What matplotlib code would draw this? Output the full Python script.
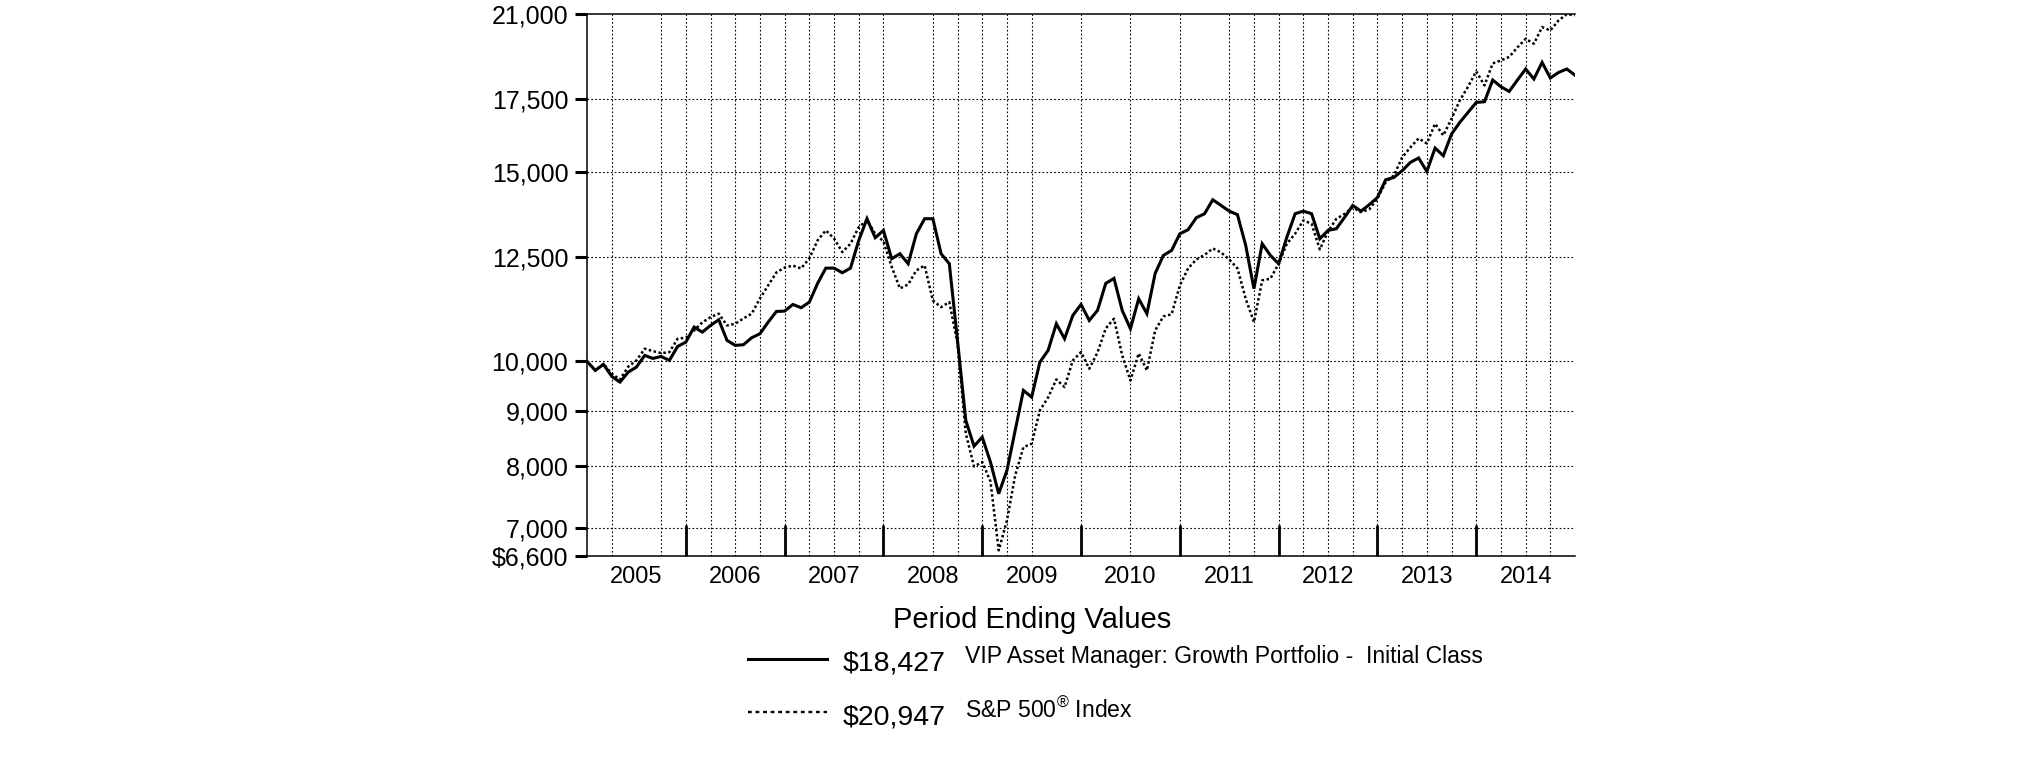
import matplotlib
matplotlib.use("Agg")
import matplotlib.pyplot as plt
from matplotlib.lines import Line2D
from matplotlib.ticker import FixedLocator, NullLocator
import numpy as np

plt.rcParams["font.family"] = ["Liberation Sans", "DejaVu Sans"]
plt.rcParams["mathtext.fontset"] = "custom"
plt.rcParams["mathtext.rm"] = "Liberation Sans"

# monthly hypothetical $10,000 growth, Dec 2004 .. Dec 2014
fund = [
    10000, 9810, 9936, 9685, 9568, 9774, 9879, 10129, 10064, 10107, 10021, 10325,
    10421, 10760, 10645, 10799, 10931, 10459, 10348, 10363, 10519, 10609, 10875, 11126,
    11134, 11294, 11215, 11350, 11813, 12205, 12205, 12085, 12205, 12949, 13563, 13024,
    13229, 12452, 12586, 12320, 13135, 13563, 13563, 12586, 12320, 10450, 8816, 8345,
    8507, 8065, 7539, 7923, 8630, 9400, 9266, 9985, 10238, 10838, 10497, 11032,
    11294, 10915, 11151, 11813, 11940, 11151, 10723, 11432, 11073, 12067, 12541, 12675,
    13135, 13247, 13592, 13708, 14124, 13953, 13785, 13679, 12811, 11680, 12858, 12541,
    12320, 13040, 13708, 13785, 13708, 12995, 13229, 13275, 13600, 13953, 13785, 13974,
    14193, 14740, 14813, 15026, 15296, 15441, 15004, 15773, 15516, 16252, 16660, 17020,
    17386, 17412, 18238, 17979, 17800, 18238, 18673, 18278, 18938, 18317, 18537, 18673,
    18427,
]
sp500 = [
    10000, 9810, 9950, 9740, 9620, 9890, 10020, 10275, 10222, 10179, 10200, 10497,
    10519, 10684, 10869, 10992, 11073, 10799, 10838, 10962, 11073, 11440, 11762, 12093,
    12220, 12270, 12197, 12461, 12949, 13229, 13004, 12629, 12858, 13323, 13515, 13135,
    12922, 12240, 11687, 11787, 12145, 12275, 11391, 11230, 11350, 10392, 8574, 7991,
    8065, 7739, 6680, 7121, 7839, 8327, 8388, 9007, 9260, 9623, 9466, 10021,
    10201, 9845, 10194, 10730, 10955, 10129, 9602, 10172, 9810, 10684, 11009, 11060,
    11762, 12197, 12433, 12553, 12729, 12621, 12433, 12197, 11432, 10875, 11889, 11933,
    12320, 12858, 13135, 13515, 13419, 12702, 13200, 13557, 13702, 13894, 13756, 13835,
    14164, 14656, 14877, 15460, 15794, 16100, 15928, 16613, 16203, 16792, 17461, 17979,
    18578, 18029, 18897, 19018, 19160, 19553, 19919, 19707, 20420, 20276, 20714, 20990,
    20947,
]
years = ["2005", "2006", "2007", "2008", "2009", "2010", "2011", "2012", "2013", "2014"]
y_ticks = [6600, 7000, 8000, 9000, 10000, 12500, 15000, 17500, 21000]
y_labels = ["$6,600", "7,000", "8,000", "9,000", "10,000", "12,500", "15,000",
            "17,500", "21,000"]
# months (from Dec 2004) carrying a vertical dotted grid line in the original
grid_months = [3, 9, 12, 15, 18, 21, 24, 27, 30, 33, 36, 42, 45, 48, 51, 54,
               60, 66, 72, 78, 81, 84, 87, 90, 93, 96, 99, 102, 105, 108, 111,
               114, 117]
fund_name = "VIP Asset Manager: Growth Portfolio -  Initial Class"
index_name = r"S&P 500$^{\circledR}$ Index"

months = np.arange(len(fund))
n_months = len(fund) - 1

fig = plt.figure(figsize=(20.25, 7.61), dpi=100)
ax = fig.add_axes([0.2899, 0.2694, 0.4879, 0.7122])

ax.plot(months, fund, color="black", lw=2.2, solid_joinstyle="miter", zorder=4)
ax.plot(months, sp500, color="black", lw=1.8, ls=(0, (1.0, 1.0)), zorder=3)

ax.set_yscale("log")
ax.set_ylim(y_ticks[0], y_ticks[-1])
ax.set_xlim(0, n_months)

ax.yaxis.set_major_locator(FixedLocator(y_ticks))
ax.yaxis.set_minor_locator(NullLocator())
ax.set_yticklabels(y_labels)
ax.tick_params(axis="y", which="major", direction="out", length=8.5, width=2.2,
               labelsize=18, pad=5, colors="black")

# year boundaries: tall inside ticks; year names centred in each year
bounds = np.arange(12, n_months, 12)
mids = np.arange(6, n_months, 12)
ax.xaxis.set_major_locator(FixedLocator(bounds))
ax.xaxis.set_minor_locator(FixedLocator(mids))
ax.set_xticklabels([""] * len(bounds))
ax.set_xticklabels(years, minor=True)
ax.tick_params(axis="x", which="major", direction="in", length=22, width=2.0,
               colors="black")
ax.tick_params(axis="x", which="minor", length=0, labelsize=17, pad=7)

# dotted grid
grid_kw = dict(color="black", lw=0.8, ls=(0, (1.5, 2.0)), zorder=1)
for q in grid_months:
    ax.axvline(q, **grid_kw)
for v in y_ticks[1:-1]:
    ax.axhline(v, **grid_kw)

ax.spines["right"].set_visible(False)
for s in ("left", "top", "bottom"):
    ax.spines[s].set_linewidth(1.1)
    ax.spines[s].set_color("black")

# legend block below the plot
W, H = 2025.0, 761.0
fig.text(893 / W, 1 - 628 / H, "Period Ending Values", fontsize=21,
         ha="left", va="baseline")
rows = [
    (fund, fund_name, dict(lw=2.2, ls="-"), 659, 670),
    (sp500, index_name, dict(lw=1.7, ls=(0, (1.6, 1.6))), 712, 725),
]
for series, name, style, y_line, y_base in rows:
    fig.add_artist(Line2D([748 / W, 827 / W], [1 - y_line / H] * 2,
                          transform=fig.transFigure, color="black", **style))
    fig.text(843 / W, 1 - y_base / H, f"${series[-1]:,}", fontsize=20.5,
             ha="left", va="baseline")
    fig.text(965 / W, 1 - (y_base - 7) / H, name, fontsize=16.6,
             ha="left", va="baseline")

fig.savefig("out.png", dpi=100, facecolor="white")
